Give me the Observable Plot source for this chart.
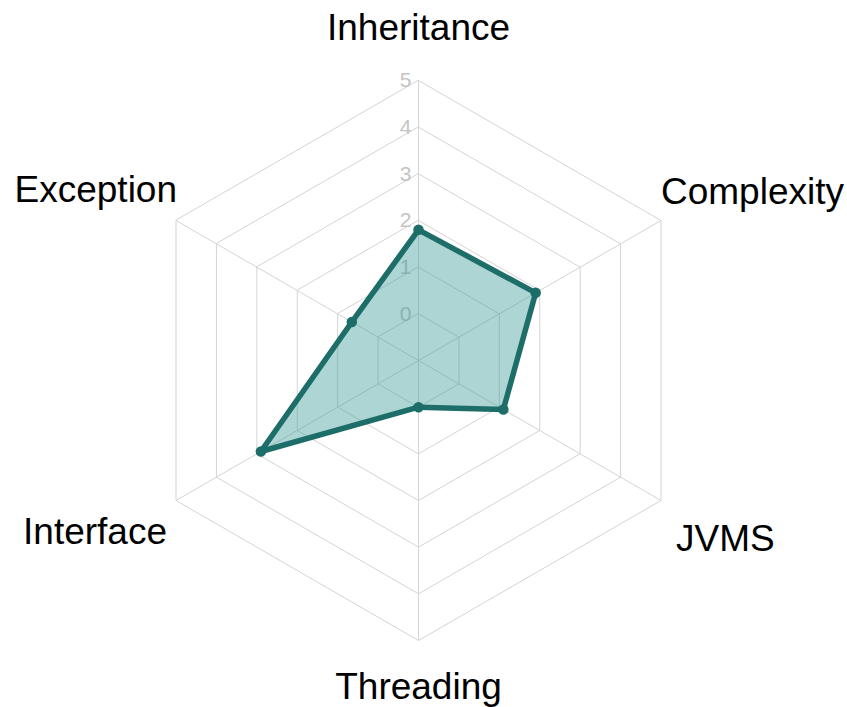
<!DOCTYPE html>
<html><head><meta charset="utf-8">
<script src="https://cdn.jsdelivr.net/npm/d3@7"></script>
<script src="https://cdn.jsdelivr.net/npm/@observablehq/plot@0.6"></script>
<style>body{margin:0;background:#fff}</style>
</head><body><div id="chart"></div>
<script>
const categories = ["Inheritance", "Complexity", "JVMS", "Threading", "Interface", "Exception"];
const values = [1.8, 1.9, 1.1, 0.0, 2.9, 0.65];
const ringLevels = [0, 1, 2, 3, 4, 5];
const tickLabels = ["0", "1", "2", "3", "4", "5"];
const rMin = -1, rMax = 5;

const W = 847, H = 707, cx = 418, cy = 360, R = 280;
const rs = d3.scaleLinear().domain([rMin, rMax]).range([0, 1]);
const n = categories.length;
const angle = i => Math.PI / 2 - i * 2 * Math.PI / n;
const pt = (i, v) => [rs(v) * Math.cos(angle(i)), rs(v) * Math.sin(angle(i))];

const rings = ringLevels.flatMap(l => categories.map((c, i) => ({level: l, x: pt(i, l)[0], y: pt(i, l)[1]})));
const spokes = categories.map((c, i) => ({x2: pt(i, rMax)[0], y2: pt(i, rMax)[1]}));
const poly = categories.map((c, i) => ({cat: c, x: pt(i, values[i])[0], y: pt(i, values[i])[1]}));
const ticks = ringLevels.map((l, k) => ({x: 0, y: rs(l), t: tickLabels[k]}));

const labelOffsets = {
  "Inheritance": {anchor: "middle", dx: 0, dy: -52},
  "Complexity": {anchor: "start", dx: 0, dy: -28},
  "JVMS": {anchor: "start", dx: 15, dy: 39},
  "Threading": {anchor: "middle", dx: 0, dy: 47},
  "Interface": {anchor: "end", dx: -9, dy: 32},
  "Exception": {anchor: "end", dx: 1, dy: -30}
};
const labelMarks = categories.map((c, i) => {
  const o = labelOffsets[c];
  const p = pt(i, rMax);
  return Plot.text([{x: p[0], y: p[1], t: c}], {x: "x", y: "y", text: "t", textAnchor: o.anchor, dx: o.dx, dy: o.dy, fontSize: 37, fill: "#000"});
});

const teal = "#1d6d69";
const chart = Plot.plot({
  width: W, height: H,
  margin: 0,
  x: {domain: [-cx / R, (W - cx) / R], axis: null},
  y: {domain: [-(H - cy) / R, cy / R], axis: null},
  style: {fontFamily: "Liberation Sans, Arial, Helvetica, sans-serif", background: "#fff"},
  marks: [
    Plot.line(rings, {x: "x", y: "y", z: "level", curve: "linear-closed", stroke: "#d4d4d4", strokeWidth: 1}),
    Plot.link(spokes, {x1: 0, y1: 0, x2: "x2", y2: "y2", stroke: "#d4d4d4", strokeWidth: 1}),
    Plot.text(ticks, {x: "x", y: "y", text: "t", textAnchor: "end", dx: -7, fill: "#c4c4c4", fontSize: 21}),
    Plot.line(poly, {x: "x", y: "y", curve: "linear-closed", fill: "#3a9b99", fillOpacity: 0.42, stroke: teal, strokeWidth: 5.5, strokeLinejoin: "round"}),
    Plot.dot(poly, {x: "x", y: "y", r: 4.5, fill: teal, stroke: teal}),
    ...labelMarks
  ]
});
document.getElementById("chart").appendChild(chart);
</script>
</body></html>
